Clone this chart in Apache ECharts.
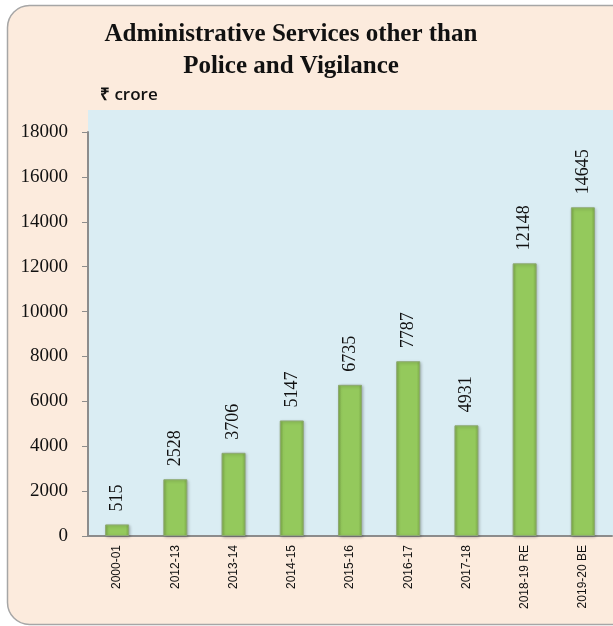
<!DOCTYPE html>
<html><head><meta charset="utf-8">
<script src="https://cdn.jsdelivr.net/npm/echarts@6/dist/echarts.min.js"></script>
<style>html,body{margin:0;padding:0;background:#fff}#c{width:613px;height:626px}</style>
</head><body><div id="c"></div>
<script>
var categories = ['2000-01','2012-13','2013-14','2014-15','2015-16','2016-17','2017-18','2018-19 RE','2019-20 BE'];
var values = [515,2528,3706,5147,6735,7787,4931,12148,14645];
var yTicks = [0,2000,4000,6000,8000,10000,12000,14000,16000,18000];
var titleLines = ['Administrative Services other than','Police and Vigilance'];
var unitLabel = '₹ crore';

var chart = echarts.init(document.getElementById('c'));
chart.setOption({
  animation:false,
  title:[{
    text: titleLines.join('\n'),
    left: 286, top: 14, textAlign:'center',
    textStyle:{fontFamily:'Liberation Serif',fontWeight:'bold',fontSize:25,color:'#111',lineHeight:32}
  },{
    text: unitLabel, left: 95, top: 82,
    textStyle:{fontFamily:'Open Sans',fontWeight:600,fontSize:17,color:'#111'}
  }],
  graphic:[
    {type:'rect',z:-10,shape:{x:7.5,y:5.5,width:640,height:619,r:22},style:{fill:'#FCEBDD',stroke:'#A6A6A6',lineWidth:1.5}},
    {type:'rect',z:-9,shape:{x:88,y:110,width:525,height:426},style:{fill:'#DAEDF3'}}
  ],
  grid:{left:88,right:1,top:132,bottom:90},
  xAxis:{
    type:'category', data:categories,
    axisLine:{lineStyle:{color:'#8C8C8C',width:2}},
    axisTick:{inside:true,length:4,lineStyle:{color:'#8C8C8C'}},
    axisLabel:{rotate:90,fontFamily:'Liberation Sans',fontSize:12,color:'#111',margin:9}
  },
  yAxis:{
    type:'value', min:0, max:18000, interval:2000,
    splitLine:{show:false},
    axisLine:{show:true,lineStyle:{color:'#8C8C8C',width:2}},
    axisTick:{show:true,length:6,lineStyle:{color:'#8C8C8C'}},
    axisLabel:{fontFamily:'Liberation Serif',fontSize:19,color:'#111',margin:20,
      formatter:function(v){return yTicks.indexOf(v)>=0?String(v):'';}}
  },
  series:[{
    type:'bar', data:values, barWidth:24,
    itemStyle:{
      color:new echarts.graphic.LinearGradient(0,0,1,0,[
        {offset:0,color:'#7FAE4A'},{offset:0.15,color:'#94C95C'},
        {offset:0.85,color:'#94C95C'},{offset:1,color:'#7FAE4A'}]),
      borderColor:'#8DA872',borderWidth:1,
      shadowColor:'rgba(0,0,0,0.25)',shadowBlur:3,shadowOffsetX:1,shadowOffsetY:1
    },
    label:{show:true,position:'top',rotate:90,align:'left',verticalAlign:'middle',distance:13,
      fontFamily:'Liberation Serif',fontSize:18,color:'#111'}
  }]
});
</script></body></html>
